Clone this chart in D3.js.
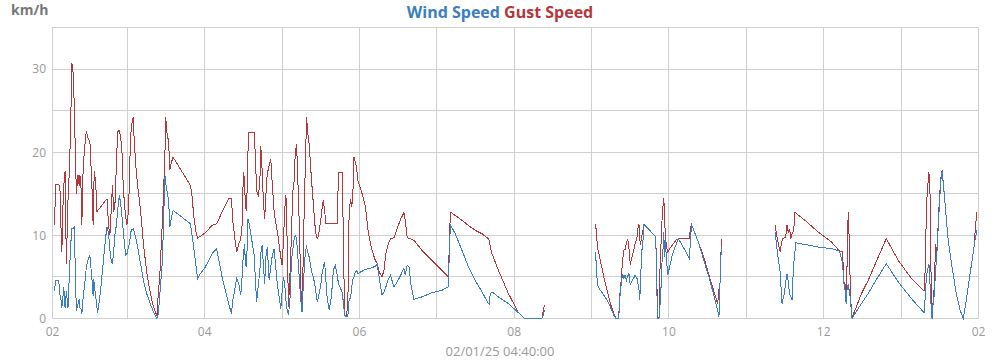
<!DOCTYPE html>
<html>
<head>
<meta charset="utf-8">
<script src="https://cdn.jsdelivr.net/npm/d3@7"></script>
<style>
  html, body { margin: 0; padding: 0; background: #fff; }
  svg { display: block; font-family: "Open Sans", "Noto Sans", sans-serif; }
</style>
</head>
<body>
<svg id="chart" width="1000" height="360"></svg>
<script>
// ---- data ----
const dateLabel = "02/01/25 04:40:00";
const unitLabel = "km/h";
const seriesNames = ["Wind Speed", "Gust Speed"];
const xTickLabels = ["02", "04", "06", "08", "10", "12", "02"];
const yTickLabels = [0, 10, 20, 30];

const times = [
 "02:03:30","02:04:30","02:06:45","02:07:45","02:08:45","02:09:15","02:10:15","02:10:45","02:11:45","02:12:45",
 "02:14:00","02:15:00","02:16:00","02:17:00","02:18:00","02:19:00","02:19:30","02:20:30","02:21:45","02:22:45",
 "02:23:15","02:24:15","02:24:45","02:25:45","02:26:45","02:28:15","02:29:30","02:31:00","02:31:30","02:32:30",
 "02:33:30","02:34:00","02:34:30","02:35:30","02:36:30","02:37:00","02:38:15","02:39:15","02:41:15","02:43:15",
 "02:44:15","02:45:30","02:46:30","02:47:30","02:48:30","02:49:30","02:50:30","02:51:30","02:52:30","02:53:45",
 "02:54:45","02:55:45","02:56:45","02:57:45","02:58:45","02:59:45","03:01:00","03:02:00","03:03:00","03:04:30",
 "03:05:30","03:07:00","03:08:45","03:10:15","03:12:45","03:15:15","03:18:00","03:20:30","03:23:00","03:24:00",
 "03:25:15","03:26:15","03:27:15","03:28:15","03:29:15","03:29:45","03:30:45","03:32:00","03:33:00","03:34:00",
 "03:35:30","03:49:00","03:50:00","03:51:30","03:53:00","03:54:30","03:55:45",
 "04:00:30","04:05:45","04:09:15","04:13:30","04:18:30","04:20:45","04:21:45","04:23:15","04:24:45","04:26:30",
 "04:28:00","04:29:00","04:30:00","04:31:00","04:31:30","04:32:30","04:33:30","04:34:00","04:38:15","04:39:15",
 "04:40:15","04:41:45","04:43:00","04:43:30","04:44:30","04:45:30","04:46:30","04:47:30","04:48:30","04:50:00",
 "04:51:15","04:52:15","04:53:45","04:54:45","04:55:45","04:56:45","04:57:45","04:59:00","05:00:00","05:01:00",
 "05:02:00","05:03:00","05:04:00","05:05:00","05:06:15","05:07:15","05:08:15","05:09:15","05:10:15","05:11:15",
 "05:12:15","05:13:30","05:14:30","05:15:30","05:16:00","05:17:00","05:18:00","05:19:00","05:20:00","05:21:00",
 "05:22:15","05:23:15","05:24:15","05:25:15","05:26:15","05:27:15","05:28:15","05:30:00","05:31:00","05:32:00",
 "05:33:00","05:34:00","05:35:00","05:36:30","05:38:15","05:39:45","05:41:15","05:42:45","05:43:45","05:46:30",
 "05:47:00","05:47:30","05:48:30","05:50:00","05:51:00","05:51:30","05:52:00","05:53:15","05:53:45","05:54:45",
 "05:55:45","05:56:45","05:57:45","05:58:45","06:01:00","06:04:30",
 "06:07:00","06:09:45","06:12:15","06:13:45","06:15:15","06:17:30","06:19:00","06:20:30","06:22:30","06:24:00",
 "06:26:45","06:29:15","06:32:00","06:33:30","06:34:30","06:35:30","06:37:00","06:38:30","06:39:45","06:42:15",
 "06:48:30","06:56:15","07:04:00","07:09:00","07:09:30","07:10:30","07:14:15","07:19:30","07:24:30","07:29:45",
 "07:35:00","07:40:00","07:40:30","07:41:30","07:42:45","07:47:45","07:55:30","08:03:15","08:08:00","08:15:00",
 "08:21:30","08:22:30","08:23:30",
 "08:45:00",
 "09:03:00","09:03:45","09:04:30","09:06:45","09:09:30","09:12:00","09:14:30","09:17:15","09:18:45","09:20:45",
 "09:21:15","09:21:45","09:22:45","09:24:00","09:25:00","09:26:00","09:27:00","09:28:00","09:29:00","09:30:00",
 "09:31:00","09:32:45","09:33:45","09:35:15","09:35:45","09:36:45","09:37:15","09:37:45","09:38:45","09:40:00",
 "09:40:30","09:44:00","09:49:45","09:50:45","09:51:15","09:52:15","09:53:15","09:54:15","09:54:45","09:55:30",
 "09:56:00","09:56:30","09:57:00","09:58:00","09:59:00","10:00:30","10:02:30","10:05:15","10:07:15","10:12:30",
 "10:16:00","10:16:30","10:17:30","10:22:45","10:27:00","10:31:00","10:35:45","10:37:45","10:38:45","10:39:15",
 "10:39:45","10:40:15","10:40:45",
 "11:00:00",
 "11:22:30","11:23:15","11:24:15","11:25:15","11:26:15","11:26:45","11:27:15","11:27:45","11:28:15","11:29:30",
 "11:30:30","11:31:30","11:32:30","11:33:30","11:34:30","11:35:30","11:36:00","11:37:00","11:37:45","11:38:15",
 "11:45:30","11:55:45","12:06:00","12:12:15","12:14:45","12:15:15","12:16:30","12:17:00","12:17:30","12:18:00",
 "12:18:30","12:19:00","12:19:30","12:20:00","12:20:30","12:21:00","12:21:30","12:22:00","12:24:15","12:29:15",
 "12:34:30","12:39:45","12:48:30","12:57:45","13:08:00","13:17:45","13:18:30","13:19:00","13:20:00","13:21:00",
 "13:21:30","13:22:00","13:22:30","13:23:00","13:23:30","13:24:00","13:24:30","13:25:00","13:25:30","13:26:00",
 "13:26:45","13:27:45","13:28:45","13:29:45","13:30:45","13:31:45","13:32:45","13:34:30","13:36:30","13:39:30",
 "13:42:45","13:45:45","13:48:15","13:50:30","13:53:30","13:56:30","13:57:00","13:58:15","13:58:45"
];

const gustSpeed = [
 11.3,16.1,16.1,15.8,10.0,8.0,14.2,16.0,17.7,6.5,
 14.2,17.5,22.5,30.7,29.6,25.1,21.5,15.0,17.3,16.0,
 17.3,15.4,11.3,17.9,20.3,22.6,21.7,21.3,19.5,16.3,
 11.3,15.8,17.7,16.3,12.8,13.0,13.2,13.4,13.8,14.2,
 14.4,11.2,10.0,13.0,16.0,12.8,14.0,18.3,22.5,22.6,
 21.9,20.5,16.3,13.8,12.2,11.3,13.0,19.1,22.9,24.2,
 21.1,17.5,15.0,13.0,8.6,5.4,2.9,1.3,0.3,2.9,
 5.4,8.6,11.8,15.8,20.3,24.2,22.3,21.3,17.9,18.7,
 19.4,16.0,15.0,12.4,10.6,9.6,9.8,
 10.3,11.2,11.4,12.8,14.4,14.4,11.8,9.8,8.0,9.0,
 9.6,11.2,17.6,16.6,13.4,13.0,19.6,22.4,22.4,19.8,
 15.4,14.6,17.4,20.8,18.0,14.2,12.0,15.0,17.4,18.4,
 19.2,16.6,13.0,11.8,11.0,10.0,8.8,7.4,6.4,9.0,
 13.0,14.8,9.0,1.4,5.8,9.8,15.2,16.4,20.0,21.0,
 16.6,10.6,3.8,1.4,4.4,11.8,18.2,24.2,22.2,21.0,
 18.0,15.8,13.8,11.6,10.2,9.6,10.0,11.8,13.2,14.2,
 13.0,11.4,11.4,11.4,11.4,11.4,11.4,11.4,17.6,17.6,
 15.0,9.8,0.4,0.2,2.0,6.2,13.0,14.4,13.4,14.2,
 19.4,18.8,18.2,16.6,15.6,13.6,
 10.2,8.2,7.0,6.6,5.6,5.0,5.8,7.8,9.0,9.6,
 9.7,10.8,12.0,12.4,12.8,11.8,9.8,9.6,9.6,9.4,
 8.2,7.0,5.8,5.0,8.0,12.8,12.4,11.8,11.2,10.6,
 10.2,9.6,9.4,8.6,7.8,5.8,3.0,0.7,0,0,
 0,1.0,1.6,
 null,
 11.4,10.4,8.6,7.0,5.0,3.4,1.8,0.6,0,0,
 0.8,2.6,4.2,7.0,8.2,8.3,9.0,9.6,8.4,6.5,
 7.2,8.2,9.0,9.8,10.7,11.3,10.0,8.8,9.8,10.7,
 11.3,10.8,9.8,3.4,0,0,7.4,10.2,12.4,13.8,
 14.5,12.4,10.6,8.6,8.0,8.4,8.8,9.4,9.6,9.6,
 9.6,10.8,11.3,9.2,7.4,5.2,2.8,1.8,3.5,2.2,
 5.4,7.6,9.6,
 null,
 11.3,10.2,9.4,8.6,8.0,8.6,9.0,9.4,9.6,9.7,
 9.8,11.2,10.4,10.8,9.6,10.2,10.2,11.2,12.8,12.7,
 11.8,10.4,9.2,8.1,8.0,5.0,3.4,4.2,3.0,5.8,
 10.2,12.8,10.6,8.2,4.2,2.2,0.8,0.2,1.0,3.0,
 4.6,6.5,9.6,7.0,4.8,3.3,5.2,9.2,14.4,16.6,
 17.6,16.6,14.6,7.0,3.0,1.2,1.8,1.8,3.4,5.4,
 9.0,7.8,11.4,14.6,16.8,17.8,16.2,13.0,9.4,6.2,
 3.0,1.0,0,2.2,5.4,8.6,9.8,12.0,12.8
];

const windSpeed = [
 3.3,4.6,4.6,2.9,2.1,1.3,2.9,3.8,1.3,3.3,
 1.3,5.0,8.6,10.8,10.8,11.1,7.0,0.9,1.7,2.3,
 1.3,1.1,0.5,2.5,3.8,6.2,7.0,7.6,6.6,5.0,
 2.7,4.8,3.8,2.7,1.3,0.7,2.1,3.3,6.6,9.8,
 11.0,10.2,8.2,7.0,6.6,8.2,10.2,11.2,13.0,14.8,
 14.0,12.4,10.8,9.0,7.6,7.8,8.6,9.4,10.6,10.8,
 10.4,9.4,8.0,6.6,4.4,2.9,1.7,0.7,0.0,0.5,
 2.9,5.0,7.0,12.6,17.1,16.3,15.4,14.2,11.0,12.0,
 13.0,11.4,10.2,8.6,6.6,4.8,5.2,
 6.2,7.8,8.4,5.0,1.8,0.6,2.2,3.4,4.8,4.2,
 2.8,5.0,7.8,9.0,6.6,6.2,12.0,11.8,7.8,5.0,
 2.0,4.2,6.2,7.8,8.8,6.6,4.2,7.4,8.6,4.6,
 6.2,7.4,8.4,6.8,5.0,3.6,2.6,1.2,3.2,5.0,
 4.2,2.2,1.0,0.4,2.6,7.0,8.2,9.4,10.0,9.6,
 7.4,4.6,2.2,0.8,2.6,5.4,8.0,8.6,8.0,7.4,
 6.2,5.4,5.0,4.2,3.2,2.0,2.6,4.0,5.4,6.2,
 6.8,4.6,2.4,1.0,2.6,5.8,6.4,5.2,4.2,3.2,
 2.6,2.0,0.4,0.2,0.2,1.4,2.2,2.6,3.4,4.6,
 5.0,5.6,5.8,5.4,5.6,5.9,
 6.0,6.1,6.3,6.5,5.0,2.8,3.2,3.8,4.8,5.2,
 3.8,4.4,5.2,5.8,6.0,5.2,6.4,6.2,4.2,2.3,
 2.6,3.1,3.4,3.8,7.0,11.3,10.2,8.2,6.2,4.6,
 3.2,1.8,1.7,3.0,3.2,2.6,1.8,0.7,0,0,
 0,0.4,1.0,
 null,
 8.0,6.2,4.0,3.4,2.8,2.2,1.4,0.4,0,0,
 0.6,2.2,3.8,5.4,4.8,5.2,4.6,5.1,5.4,4.0,
 4.4,4.9,5.2,4.8,4.4,3.4,2.2,3.4,7.8,9.6,
 11.3,10.8,9.8,2.6,0,0,2.0,5.0,7.4,8.6,
 10.4,7.4,9.4,7.4,5.2,6.2,7.6,8.8,9.6,8.2,
 7.2,9.2,11.3,9.2,7.0,5.0,2.2,1.0,0.2,2.2,
 5.4,7.4,8.6,
 null,
 10.4,9.0,7.8,6.6,5.6,4.2,2.6,1.7,2.2,3.0,
 4.4,5.4,4.4,3.0,2.6,2.2,4.6,7.0,8.2,9.1,
 8.9,8.6,8.4,8.1,6.6,4.6,3.4,2.2,1.8,3.4,
 3.8,4.2,3.6,3.0,2.6,1.8,0.6,0,0.6,1.8,
 3.0,4.4,6.6,4.4,2.4,0.7,2.2,3.8,5.4,6.2,
 6.6,5.8,3.8,2.2,1.0,0,1.4,1.8,2.6,3.8,
 5.8,7.8,11.0,13.8,16.6,17.7,16.2,13.0,9.4,6.2,
 3.0,1.0,0,2.2,5.4,8.6,9.2,10.2,10.6
];

// ---- chart ----
const margin = { left: 52.5, right: 978.5, top: 27.5, bottom: 318.5 };
const colors = { wind: "#3a7ebf", gust: "#b4373c", grid: "#cfcfcf", text: "#999999", unit: "#777777" };

const parseTime = d3.timeParse("%Y-%m-%d %H:%M:%S");
const day = "2025-02-01";
const t = s => parseTime(day + " " + s);

const data = times.map((s, i) => ({ time: t(s), wind: windSpeed[i], gust: gustSpeed[i] }));

const x = d3.scaleTime()
  .domain([t("02:02:00"), t("14:00:00")])
  .range([margin.left, margin.right]);
const y = d3.scaleLinear().domain([0, 35]).range([margin.bottom, margin.top]);

const svg = d3.select("#chart");

// grid: horizontal every 5
const gridG = svg.append("g");
gridG.selectAll("line.h").data(d3.range(0, 36, 5)).enter().append("line")
  .attr("x1", margin.left).attr("x2", margin.right)
  .attr("y1", d => Math.round(y(d) - 0.5) + 0.5).attr("y2", d => Math.round(y(d) - 0.5) + 0.5)
  .attr("stroke", colors.grid).attr("stroke-width", 1);

// vertical: every hour
const hourTicks = d3.timeHour.range(t("03:00:00"), t("14:00:01"));
gridG.selectAll("line.v").data(hourTicks).enter().append("line")
  .attr("x1", d => Math.round(x(d) - 0.5) + 0.5).attr("x2", d => Math.round(x(d) - 0.5) + 0.5)
  .attr("y1", margin.top).attr("y2", margin.bottom)
  .attr("stroke", colors.grid).attr("stroke-width", 1);
// left edge
gridG.append("line")
  .attr("x1", margin.left).attr("x2", margin.left)
  .attr("y1", margin.top).attr("y2", margin.bottom)
  .attr("stroke", colors.grid).attr("stroke-width", 1);

// y tick labels
svg.append("g").selectAll("text").data(yTickLabels).enter().append("text")
  .attr("x", 46).attr("y", d => y(d)).attr("dy", "0.36em")
  .attr("text-anchor", "end").attr("font-size", 12).attr("fill", colors.text)
  .text(d => d);

// x tick labels
const xTickTimes = [t("02:02:00"), t("04:00:00"), t("06:00:00"), t("08:00:00"), t("10:00:00"), t("12:00:00"), t("14:00:00")];
svg.append("g").selectAll("text").data(xTickTimes).enter().append("text")
  .attr("x", d => x(d)).attr("y", 336)
  .attr("text-anchor", "middle").attr("font-size", 12).attr("fill", colors.text)
  .text((d, i) => xTickLabels[i]);

// axis title
svg.append("text").attr("x", 500).attr("y", 356).attr("text-anchor", "middle")
  .attr("font-size", 13).attr("fill", colors.text).text(dateLabel);

// unit label
svg.append("text").attr("x", 11).attr("y", 15).attr("font-size", 14).attr("font-weight", "bold")
  .attr("fill", colors.unit).text(unitLabel);

// title
const title = svg.append("text").attr("x", 500).attr("y", 18).attr("text-anchor", "middle")
  .attr("font-size", 16).attr("font-weight", "bold");
title.append("tspan").attr("fill", colors.wind).text(seriesNames[0]);
title.append("tspan").attr("fill", colors.gust).text(" " + seriesNames[1]);

// lines
const lineFor = key => d3.line()
  .defined(d => d[key] != null)
  .x(d => x(d.time)).y(d => y(d[key]));

svg.append("path").datum(data).attr("d", lineFor("gust"))
  .attr("fill", "none").attr("stroke", colors.gust).attr("stroke-width", 1)
  .attr("shape-rendering", "crispEdges");
svg.append("path").datum(data).attr("d", lineFor("wind"))
  .attr("fill", "none").attr("stroke", colors.wind).attr("stroke-width", 1)
  .attr("shape-rendering", "crispEdges");
</script>
</body>
</html>
